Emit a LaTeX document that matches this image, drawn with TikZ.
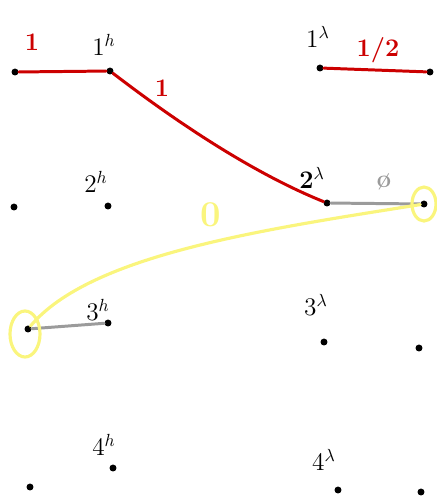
\documentclass[tikz,border=0pt]{standalone}
\usepackage{tikz}

\definecolor{penred}{RGB}{204,0,0}
\definecolor{penyellow}{RGB}{250,245,125}
\definecolor{pengray}{RGB}{155,155,155}

\tikzset{
    pt/.style={circle, fill=black, inner sep=1.4pt},
    lbl/.style={font=\Large},
    redline/.style={penred, line width=1.7pt, line cap=round},
    grayline/.style={pengray, line width=1.7pt, line cap=round},
    yellowline/.style={penyellow, line width=1.8pt, line cap=round}
}

\begin{document}
\begin{tikzpicture}[x=0.02cm, y=-0.02cm]

    \useasboundingbox (0,0) rectangle (437,498);

    % points
    \node[pt] (a1) at (15,72) {};
    \node[pt] (h1) at (110,71) {};
    \node[pt] (l1) at (320,68) {};
    \node[pt] (b1) at (430,72) {};

    \node[pt] (a2) at (14,207) {};
    \node[pt] (h2) at (108,206) {};
    \node[pt] (l2) at (327,203) {};
    \node[pt] (b2) at (424,204) {};

    \node[pt] (a3) at (28,329) {};
    \node[pt] (h3) at (108,323) {};
    \node[pt] (l3) at (324,342) {};
    \node[pt] (b3) at (419,348) {};

    \node[pt] (a4) at (30,487) {};
    \node[pt] (h4) at (113,468) {};
    \node[pt] (l4) at (338,490) {};
    \node[pt] (b4) at (421,492) {};

    % labels
    \node[lbl] (t1h) at (104,45) {1$^h$};
    \node[lbl] (t1l) at (318,37) {1$^\lambda$};
    \node[lbl] (t2h) at (96,182) {2$^h$};
    \node[lbl] (t2l) at (312,178) {\textbf{2}$^\lambda$};
    \node[lbl] (t3h) at (98,310) {3$^h$};
    \node[lbl] (t3l) at (316,305) {3$^\lambda$};
    \node[lbl] (t4h) at (104,445) {4$^h$};
    \node[lbl] (t4l) at (324,460) {4$^\lambda$};

    \node[lbl, penred] (w1) at (32,42) {\textbf{1}};
    \node[lbl, penred] (w2) at (162,88) {\textbf{1}};
    \node[lbl, penred] (w3) at (378,50) {\textbf{1/2}};
    \node[lbl, pengray] (w4) at (384,182) {\textbf{\o}};
    \node[lbl, penyellow] (w5) at (211,215) {\huge\textbf{0}};

    % edges
    \draw[redline] (a1) -- (h1);
    \draw[redline] (h1) .. controls (200,140) and (270,180) .. (l2);
    \draw[redline] (l1) -- (b1);
    \draw[grayline] (l2) -- (b2);
    \draw[grayline] (a3) -- (h3);

    \draw[yellowline] (b2) ellipse [x radius=12, y radius=17];
    \draw[yellowline] (a3) ++(-3,5) ellipse [x radius=15, y radius=23];
    \draw[yellowline] (b2) .. controls (260,230) and (90,255) .. (a3);

\end{tikzpicture}
\end{document}
